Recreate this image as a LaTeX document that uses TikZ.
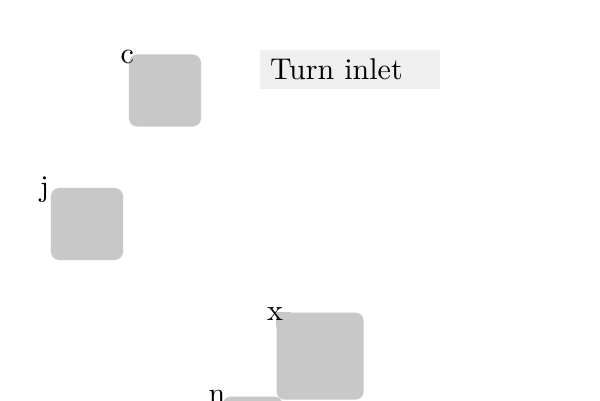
\documentclass[tikz,border=0pt]{standalone}
\usepackage{xcolor}
\usepackage{tikz}
\usetikzlibrary{positioning, calc}
\definecolor{blockgray}{RGB}{200,200,200}
\definecolor{notegray}{RGB}{239,239,239}
\tikzset{
  block/.style={fill=blockgray, rounded corners=2.7pt, inner sep=0pt, minimum width=24pt, minimum height=24pt},
  tag/.style={inner sep=0pt},
  note/.style={fill=notegray, inner xsep=3.33pt, inner ysep=0pt, text width=53.3pt, minimum height=13pt, align=left}
}

\begin{document}
\begin{tikzpicture}[x=0.3333pt, y=-0.3333pt]
  % Frame
  \clip (0,0) rectangle (600,400);
  \fill[white] (0,0) rectangle (600,400);

  % Blocks
  \node[block] (cbox) at (165,90.5) {};
  \node[block] (jbox) at (87,224) {};
  \node[block, minimum width=20pt, minimum height=20pt, anchor=north west] (nbox) at (222,396) {};
  \node[block, minimum width=29pt, minimum height=29pt, anchor=north west] (xbox) at (276,312) {};
  \fill[blockgray, sharp corners] (xbox.north west) -- ++(15,0) -- ++(0,15) -- ++(-15,0) -- cycle;

  % Labels
  \node[tag] (clab) at ($(cbox.north west)+(-1,3)$) {c};
  \node[tag] (jlab) at ($(jbox.north west)+(-6,2)$) {j};
  \node[tag] (xlab) at ($(xbox.north west)+(-1,2)$) {x};
  \node[tag] (nlab) at ($(nbox.north west)+(-5,1)$) {n};

  % Note
  \node[note] (inlet) at (350,69.5) {Turn inlet};
\end{tikzpicture}
\end{document}
